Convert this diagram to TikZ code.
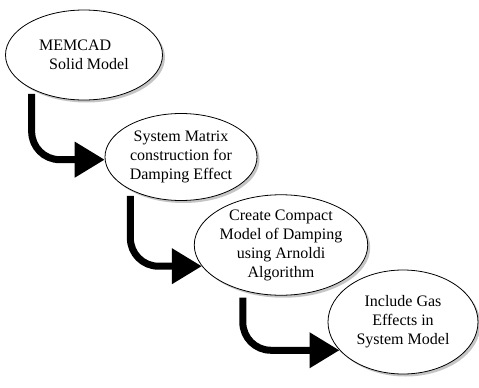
\documentclass[tikz,border=0pt]{standalone}
\usepackage{fontspec}
\setmainfont{Liberation Serif}
\usetikzlibrary{shapes.geometric,shadows,arrows.meta}
\begin{document}
\begin{tikzpicture}[x=1pt,y=-1pt,
 stage/.style={ellipse,draw=black,line width=0.8pt,fill=white,inner sep=0pt,align=center,
   font=\fontsize{16}{19}\selectfont,
   drop shadow={shadow xshift=2.5pt,shadow yshift=-2.5pt,fill=black!45}},
 flow/.style={line width=7pt,rounded corners=28pt,-{Triangle[length=30pt,width=34pt]}}]
\useasboundingbox (0,0) rectangle (479,388);
\node[stage,minimum width=157pt,minimum height=90pt,align=left] (e1) at (84,55) {MEMCAD\\\hspace{10pt}Solid Model};
\node[stage,minimum width=152pt,minimum height=87pt] (e2) at (181,157) {System Matrix\\construction for\\Damping Effect};
\node[stage,minimum width=146pt,minimum height=90pt] (e3) at (281,245) {Create Compact\\Model of Damping\\using Arnoldi\\Algorithm};
\node[stage,minimum width=150pt,minimum height=104pt] (e4) at (403,322) {Include Gas\\Effects in\\System Model};
\draw[flow] ([yshift=-5pt]e1.213) |- (e2.182);
\draw[flow] ([yshift=-6pt]e2.213) |- (e3.195);
\draw[flow] ([yshift=-7pt]e3.230) |- (e4.204);
\end{tikzpicture}
\end{document}
